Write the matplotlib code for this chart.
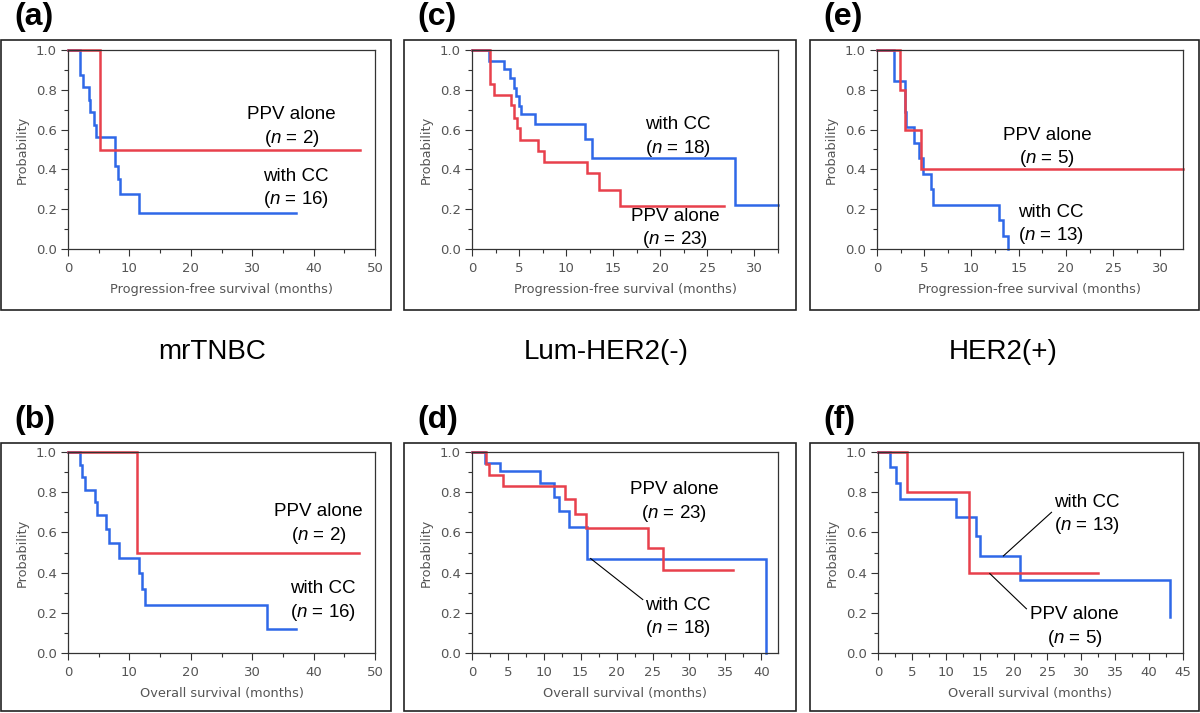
import matplotlib
matplotlib.use("Agg")
import matplotlib.pyplot as plt
from matplotlib.patches import Rectangle
from matplotlib.ticker import MultipleLocator

plt.rcParams['mathtext.fontset'] = 'custom'
plt.rcParams['mathtext.rm'] = 'Liberation Sans'
plt.rcParams['mathtext.it'] = 'Liberation Sans:italic'

RED = '#e8404c'
BLUE = '#2f68e8'
GRAY = '#555555'

# Kaplan-Meier step data (event times, survival after event)
a_cc_t = [2.0, 2.5, 3.4, 3.6, 4.3, 4.6, 7.7, 8.1, 8.4, 11.6]
a_cc_s = [0.875, 0.8125, 0.75, 0.6875, 0.625, 0.5625, 0.415, 0.35, 0.276, 0.18]
a_cc_end = 37.2
a_ppv_t = [5.2]
a_ppv_s = [0.5]
a_ppv_end = 47.6

c_cc_t = [1.8, 3.36, 4.07, 4.42, 4.7, 4.95, 5.16, 6.72, 11.96, 12.77, 27.9]
c_cc_s = [0.944, 0.905, 0.858, 0.81, 0.77, 0.72, 0.677, 0.629, 0.552, 0.456, 0.222]
c_cc_end = 32.5
c_ppv_t = [1.95, 2.3, 4.17, 4.42, 4.8, 5.06, 7.0, 7.7, 12.24, 13.44, 15.67]
c_ppv_s = [0.83, 0.774, 0.724, 0.657, 0.61, 0.548, 0.49, 0.436, 0.381, 0.298, 0.217]
c_ppv_end = 26.8

e_cc_t = [1.76, 2.93, 3.1, 3.88, 4.4, 4.86, 5.75, 5.96, 12.97, 13.32, 13.85]
e_cc_s = [0.846, 0.69, 0.615, 0.533, 0.456, 0.378, 0.30, 0.222, 0.147, 0.067, 0.0]
e_cc_end = 13.85
e_ppv_t = [2.43, 3.0, 4.69]
e_ppv_s = [0.8, 0.6, 0.4]
e_ppv_end = 32.4

b_cc_t = [2.0, 2.34, 2.77, 4.46, 4.73, 6.25, 6.63, 8.26, 11.58, 12.1, 12.6, 32.4]
b_cc_s = [0.9375, 0.875, 0.8125, 0.75, 0.6875, 0.617, 0.546, 0.475, 0.396, 0.317, 0.237, 0.118]
b_cc_end = 37.1
b_ppv_t = [11.25]
b_ppv_s = [0.5]
b_ppv_end = 47.4

d_cc_t = [1.75, 3.9, 9.35, 11.3, 12.0, 13.4, 15.85, 40.6]
d_cc_s = [0.944, 0.905, 0.848, 0.776, 0.706, 0.627, 0.47, 0.0]
d_cc_end = 40.6
d_ppv_t = [2.0, 2.3, 4.3, 12.9, 14.3, 15.7, 24.3, 26.45]
d_ppv_s = [0.94, 0.885, 0.829, 0.765, 0.69, 0.624, 0.52, 0.415]
d_ppv_end = 36.1

f_cc_t = [1.72, 2.7, 3.3, 11.5, 14.47, 15.06, 21.0, 43.1]
f_cc_s = [0.923, 0.846, 0.767, 0.678, 0.58, 0.485, 0.362, 0.18]
f_cc_end = 43.1
f_ppv_t = [4.27, 13.4]
f_ppv_s = [0.8, 0.4]
f_ppv_end = 32.5

groups = ['mrTNBC', 'Lum-HER2(-)', 'HER2(+)']
PFS = 'Progression-free survival (months)'
OS = 'Overall survival (months)'

W, H = 1200, 713
fig = plt.figure(figsize=(W / 100, H / 100), dpi=100)


def fx(px):
    return px / W


def fy(py):
    return 1 - py / H


def km(ax, t, s, end, color):
    xs = [0] + list(t) + [end]
    ys = [1.0] + list(s) + [s[-1]]
    ax.step(xs, ys, where='post', color=color, lw=1.8, clip_on=False,
            solid_joinstyle='miter')


def panel(label, box, axbox, xmax, xmaj, xlabel):
    # outer frame
    x0, y0, x1, y1 = box
    fig.add_artist(Rectangle((fx(x0), fy(y1)), fx(x1 - x0), (y1 - y0) / H,
                             fill=False, ec='#222222', lw=1.2))
    fig.text(fx(x0 + 13), fy(y0 - 23), label, fontsize=23, fontweight='bold',
             family='Liberation Sans', va='center', ha='left')
    l, t, r, b = axbox
    ax = fig.add_axes([fx(l), fy(b), fx(r - l), (b - t) / H])
    ax.set_xlim(0, xmax)
    ax.set_ylim(0, 1)
    ax.xaxis.set_major_locator(MultipleLocator(xmaj))
    ax.xaxis.set_minor_locator(MultipleLocator(xmaj / 2))
    ax.yaxis.set_major_locator(MultipleLocator(0.2))
    ax.yaxis.set_minor_locator(MultipleLocator(0.1))
    ax.yaxis.set_major_formatter(plt.FuncFormatter(lambda v, p: f'{v:.1f}'))
    ax.tick_params(which='major', length=5, width=0.8, color='#333333',
                   labelsize=9.5, labelcolor=GRAY, pad=3)
    ax.tick_params(axis='x', which='major', pad=4)
    ax.tick_params(which='minor', length=3, width=0.8, color='#333333')
    for sp in ax.spines.values():
        sp.set_color('#333333')
        sp.set_linewidth(0.9)
    ax.set_ylabel('Probability', fontsize=9.3, color=GRAY, labelpad=5)
    ax.set_xlabel(xlabel, fontsize=9.3, color=GRAY, labelpad=6)
    return ax


def note(ax, x, y, name, n):
    ax.text(x, y, name, fontsize=13.5, family='Liberation Sans',
            ha='center', va='center')
    ax.text(x, y - 0.117, '($n$ = %d)' % n, fontsize=13.5,
            family='Liberation Sans', ha='center', va='center')


ax = panel('(a)', (1, 40, 391, 310), (68, 50, 375, 249), 50, 10, PFS)
km(ax, a_cc_t, a_cc_s, a_cc_end, BLUE)
km(ax, a_ppv_t, a_ppv_s, a_ppv_end, RED)
note(ax, 36.4, 0.674, 'PPV alone', 2)
note(ax, 37.1, 0.365, 'with CC', 16)

ax = panel('(c)', (404, 40, 796, 310), (472, 50, 778, 249), 32.5, 5, PFS)
km(ax, c_cc_t, c_cc_s, c_cc_end, BLUE)
km(ax, c_ppv_t, c_ppv_s, c_ppv_end, RED)
note(ax, 21.9, 0.624, 'with CC', 18)
note(ax, 21.6, 0.164, 'PPV alone', 23)

ax = panel('(e)', (810, 40, 1199, 310), (877, 50, 1183, 249), 32.4, 5, PFS)
km(ax, e_cc_t, e_cc_s, e_cc_end, BLUE)
km(ax, e_ppv_t, e_ppv_s, e_ppv_end, RED)
note(ax, 18.0, 0.57, 'PPV alone', 5)
note(ax, 18.4, 0.184, 'with CC', 13)

ax = panel('(b)', (1, 443, 391, 711), (68, 452, 375, 653), 50, 10, OS)
km(ax, b_cc_t, b_cc_s, b_cc_end, BLUE)
km(ax, b_ppv_t, b_ppv_s, b_ppv_end, RED)
note(ax, 40.8, 0.704, 'PPV alone', 2)
note(ax, 41.5, 0.32, 'with CC', 16)

ax = panel('(d)', (404, 443, 796, 711), (472, 452, 778, 653), 42.3, 5, OS)
km(ax, d_cc_t, d_cc_s, d_cc_end, BLUE)
km(ax, d_ppv_t, d_ppv_s, d_ppv_end, RED)
note(ax, 27.9, 0.812, 'PPV alone', 23)
note(ax, 28.5, 0.238, 'with CC', 18)
ax.plot([16.4, 23.6], [0.47, 0.266], color='black', lw=0.8)

ax = panel('(f)', (810, 443, 1199, 711), (878, 452, 1183, 653), 45, 5, OS)
km(ax, f_cc_t, f_cc_s, f_cc_end, BLUE)
km(ax, f_ppv_t, f_ppv_s, f_ppv_end, RED)
note(ax, 30.8, 0.75, 'with CC', 13)
note(ax, 29.0, 0.19, 'PPV alone', 5)
ax.plot([18.5, 25.6], [0.483, 0.70], color='black', lw=0.8)
ax.plot([16.5, 21.9], [0.395, 0.22], color='black', lw=0.8)

for cx, g in zip([212, 606, 1003], groups):
    fig.text(fx(cx), fy(352), g, fontsize=20, family='Liberation Sans',
             ha='center', va='center')

fig.savefig('out.png', dpi=100)
